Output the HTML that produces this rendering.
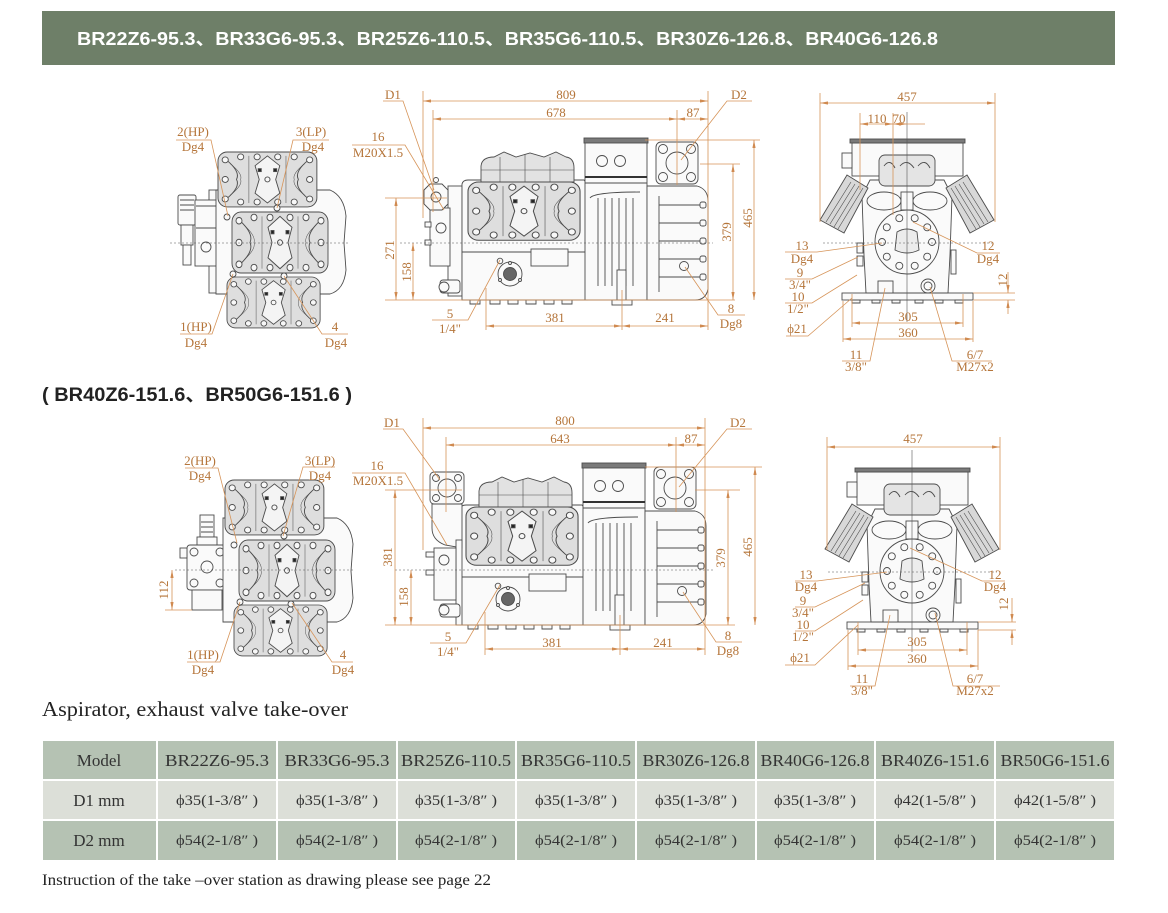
<!DOCTYPE html>
<html><head><meta charset="utf-8">
<style>
html,body{margin:0;padding:0;background:#fff;}
svg{display:block;}
.t{font-family:"Liberation Serif","DejaVu Serif",serif;font-size:13px;fill:#b5753a;text-anchor:middle;}
.o{stroke:#d69459;stroke-width:0.8;fill:none;}
.d{stroke:#d69459;stroke-width:0.8;fill:none;marker-start:url(#ar);marker-end:url(#ar);}
.e{stroke:#d69459;stroke-width:0.8;fill:none;marker-end:url(#ar);}
.g{stroke:#4c4c4c;stroke-width:0.9;fill:#fafafa;}
.c{stroke:#555;stroke-width:0.6;stroke-dasharray:2 2;fill:none;}
.tb{font-family:"Liberation Serif","DejaVu Serif",serif;fill:#333;text-anchor:middle;}
</style></head><body>
<svg width="1168" height="913" viewBox="0 0 1168 913" xmlns="http://www.w3.org/2000/svg" xmlns:xlink="http://www.w3.org/1999/xlink">
<defs>
<marker id="ar" viewBox="0 0 10 4" refX="10" refY="2" markerWidth="8" markerHeight="3.2" markerUnits="userSpaceOnUse" orient="auto-start-reverse"><path d="M0 0 L10 2 L0 4 z" fill="#d08a50"/></marker>
<g id="hd">
 <rect x="0" y="0" width="96" height="56" rx="9" fill="#dedede"/>
 <path d="M48 4 L60 14 L56 28 L60 42 L48 52 L36 42 L40 28 L36 14 Z" fill="#f4f4f4"/>
 <path d="M8 8 Q22 20 18 28 Q22 36 8 48" fill="none"/>
 <path d="M88 8 Q74 20 78 28 Q74 36 88 48" fill="none"/>
 <path d="M12 12 Q24 22 22 28 Q24 34 12 44" fill="none" stroke-width="0.5"/>
 <path d="M84 12 Q72 22 74 28 Q72 34 84 44" fill="none" stroke-width="0.5"/>
 <path d="M30 4 L30 52 M66 4 L66 52" fill="none" stroke-width="0.5"/>
 <g fill="#f8f8f8">
 <circle cx="7" cy="8" r="3"/><circle cx="22" cy="5" r="3"/><circle cx="38" cy="5" r="3"/><circle cx="58" cy="5" r="3"/><circle cx="74" cy="5" r="3"/><circle cx="89" cy="8" r="3"/>
 <circle cx="7" cy="28" r="3"/><circle cx="89" cy="28" r="3"/>
 <circle cx="7" cy="48" r="3"/><circle cx="22" cy="51" r="3"/><circle cx="38" cy="51" r="3"/><circle cx="58" cy="51" r="3"/><circle cx="74" cy="51" r="3"/><circle cx="89" cy="48" r="3"/>
 <circle cx="48" cy="28" r="2.5"/>
 </g>
 <rect x="39" y="17" width="3" height="3" fill="#222"/><rect x="54" y="17" width="3" height="3" fill="#222"/>
</g>
<g id="sv" class="g">
 <path d="M462 184 Q463 180 468 180 L584 180 L588 185 L588 300 L462 300 Z"/>
 <path d="M481 182 L481 166 Q482 157 494 157 L504 152 L516 157 L530 153 L544 157 L556 152 L566 157 Q574 158 574 168 L574 182 Z" fill="#e2e2e2"/>
 <path d="M481 170 L574 170 M500 157 L500 182 M525 154 L525 182 M550 157 L550 182" fill="none" stroke-width="0.6"/>
 <use xlink:href="#hd" href="#hd" transform="translate(468,182) scale(1.167,1.04)"/>
 <line x1="462" y1="252" x2="588" y2="252"/>
 <circle cx="500" cy="261" r="2.8"/>
 <circle cx="510" cy="274" r="12"/>
 <circle cx="510" cy="274" r="6.5" fill="#666"/>
 <circle cx="510" cy="263" r="1.5"/><circle cx="500" cy="280" r="1.5"/><circle cx="520" cy="280" r="1.5"/>
 <rect x="531" y="249" width="37" height="17"/>
 <path d="M470 300 h10 v4 h-10z M490 300 h10 v4 h-10z M508 300 h10 v4 h-10z M526 300 h10 v4 h-10z M544 300 h10 v4 h-10z M562 300 h10 v4 h-10z"/>
 <rect x="585" y="141" width="62" height="159"/>
 <rect x="584" y="138" width="64" height="5" fill="#7a7a7a"/>
 <line x1="585" y1="177" x2="647" y2="177" stroke="#333" stroke-width="2"/>
 <line x1="585" y1="183" x2="647" y2="183"/>
 <circle cx="602" cy="161" r="5.5"/><circle cx="620" cy="161" r="5.5"/>
 <path d="M598 198 V286 M605 198 V286 M612 198 V286 M619 198 V286 M626 198 V286 M633 198 V286" fill="none"/>
 <path d="M590 198 Q594 192 640 192" fill="none"/>
 <rect x="617" y="270" width="9" height="30"/>
 <rect x="612" y="300" width="20" height="5"/>
 <path d="M647 186 L697 186 Q708 189 708 201 L708 289 Q706 300 695 300 L647 300 Z"/>
 <path d="M659 196 V292 M659 205 H701 M659 223 H701 M659 241 H701 M659 259 H701 M659 277 H701" fill="none"/>
 <rect x="700" y="202" width="6" height="6" rx="2"/><rect x="700" y="220" width="6" height="6" rx="2"/><rect x="700" y="238" width="6" height="6" rx="2"/><rect x="700" y="256" width="6" height="6" rx="2"/><rect x="700" y="274" width="6" height="6" rx="2"/>
 <circle cx="684" cy="266" r="4.5"/>
 <rect x="656" y="142" width="42" height="42" rx="5"/>
 <circle cx="663" cy="149" r="4.5"/><circle cx="691" cy="149" r="4.5"/><circle cx="663" cy="177" r="4.5"/><circle cx="691" cy="177" r="4.5"/>
 <circle cx="677" cy="163" r="11"/>
</g>
<g id="tv" class="g">
 <path d="M216 190 L330 190 Q344 196 346 216 L344 243 L346 270 Q344 290 330 294 L216 294 Z"/>
 <use xlink:href="#hd" href="#hd" transform="translate(218,152) scale(1.03,0.98)"/>
 <use xlink:href="#hd" href="#hd" transform="translate(232,212) scale(1,1.09)"/>
 <use xlink:href="#hd" href="#hd" transform="translate(227,277) scale(0.97,0.91)"/>
 <circle cx="227" cy="217" r="3"/>
 <circle cx="277" cy="208" r="3"/>
 <circle cx="233" cy="274" r="3"/>
 <circle cx="284" cy="276" r="3"/>
</g>
<g id="fv" class="g">
 <rect x="842" y="293" width="131" height="7"/>
 <path d="M852 300 h8 v3 h-8z M872 300 h8 v3 h-8z M892 300 h8 v3 h-8z M915 300 h8 v3 h-8z M935 300 h8 v3 h-8z M955 300 h8 v3 h-8z"/>
 <path d="M870 180 L944 180 L952 196 L950 255 L948 293 L866 293 L864 255 L862 196 Z"/>
 <polygon points="847,175 868,188 844,233 820,220" fill="#d8d8d8"/>
 <path d="M851 182 L826 222 M855 184 L830 224 M859 186 L834 227 M863 188 L838 229" fill="none" stroke-width="0.6"/>
 <polygon points="967,175 946,188 970,233 994,220" fill="#d8d8d8"/>
 <path d="M963 182 L988 222 M959 184 L984 224 M955 186 L980 227 M951 188 L976 229" fill="none" stroke-width="0.6"/>
 <rect x="852" y="143" width="111" height="33"/>
 <rect x="850" y="139" width="115" height="4" fill="#7a7a7a"/>
 <rect x="842" y="153" width="10" height="15"/>
 <rect x="879" y="155" width="56" height="31" rx="6" fill="#e4e4e4"/>
 <path d="M884 166 Q890 158 895 168 M900 166 Q907 158 914 168 M918 166 Q925 158 930 168" fill="none"/>
 <ellipse cx="884" cy="201" rx="17" ry="9"/>
 <ellipse cx="930" cy="201" rx="17" ry="9"/>
 <rect x="901" y="192" width="12" height="18"/>
 <circle cx="907" cy="242" r="32"/>
 <path d="M897 232 Q907 226 917 232 L919 250 Q907 256 895 250 Z" fill="#ececec"/>
 <g>
 <circle cx="932" cy="242" r="3.5"/><circle cx="927.2" cy="256.7" r="3.5"/><circle cx="914.7" cy="265.8" r="3.5"/><circle cx="899.3" cy="265.8" r="3.5"/><circle cx="886.8" cy="256.7" r="3.5"/>
 <circle cx="882" cy="242" r="3.5"/><circle cx="886.8" cy="227.3" r="3.5"/><circle cx="899.3" cy="218.2" r="3.5"/><circle cx="914.7" cy="218.2" r="3.5"/><circle cx="927.2" cy="227.3" r="3.5"/>
 </g>
 <circle cx="928" cy="286" r="7"/><circle cx="928" cy="286" r="4"/>
 <rect x="878" y="281" width="15" height="12"/>
 <rect x="857" y="243" width="6" height="10"/><rect x="857" y="256" width="6" height="10"/>
 <rect x="951" y="250" width="5" height="24"/>
</g>
</defs>

<!-- Header -->
<rect x="42" y="11" width="1073" height="54" fill="#6e7f68"/>
<text x="77" y="45" font-family="'Liberation Sans','Noto Sans CJK SC',sans-serif" font-weight="bold" font-size="18" fill="#fff" textLength="861" lengthAdjust="spacingAndGlyphs">BR22Z6-95.3、BR33G6-95.3、BR25Z6-110.5、BR35G6-110.5、BR30Z6-126.8、BR40G6-126.8</text>

<!-- ===== TOP ROW ===== -->
<g class="g">
 <rect x="209" y="190" width="8" height="103"/>
 <rect x="178" y="195" width="18" height="30" rx="2"/>
 <path d="M180 200 h14 M180 205 h14 M180 210 h14" fill="none"/>
 <rect x="181" y="225" width="12" height="20"/>
 <rect x="183" y="245" width="8" height="20"/>
 <rect x="195" y="200" width="22" height="66"/>
 <path d="M196 206 h20 M196 228 h20" fill="none"/>
 <circle cx="206" cy="247" r="5"/>
</g>
<use xlink:href="#tv" href="#tv"/>
<path class="c" d="M170 243 H350"/>
<path class="o" d="M176 140 H211 L228 216 M329 140 H293 L277 208 M180 334 H212 L233 274 M348 334 H322 L284 276"/>
<text class="t" x="193" y="136">2(HP)</text><text class="t" x="193" y="151">Dg4</text>
<text class="t" x="311" y="136">3(LP)</text><text class="t" x="313" y="151">Dg4</text>
<text class="t" x="196" y="331">1(HP)</text><text class="t" x="196" y="347">Dg4</text>
<text class="t" x="335" y="331">4</text><text class="t" x="336" y="347">Dg4</text>

<g class="g">
 <rect x="448" y="186" width="14" height="110"/>
 <rect x="430" y="208" width="20" height="58"/>
 <path d="M424 190 L430 184 L442 184 L448 190 L448 204 L442 210 L430 210 L424 204 Z"/>
 <circle cx="436" cy="197" r="5"/>
 <circle cx="436" cy="180" r="2.5"/>
 <rect x="440" y="280" width="20" height="13" rx="3"/>
 <circle cx="444" cy="287" r="5"/>
 <rect x="425" y="222" width="6" height="5"/><rect x="425" y="240" width="6" height="5"/>
 <circle cx="441" cy="228" r="5"/>
</g>
<use xlink:href="#sv" href="#sv"/>
<path class="c" d="M400 243 H713"/>
<path class="o" d="M423 91 V218 M433 110 V212 M708 91 V330 M677 110 V185 M645 140 H760 M700 164 H740 M385 198 H447 M385 300 H735 M486 288 V330 M622 290 V330"/>
<path class="d" d="M423 101 H708"/>
<path class="d" d="M433 119 H677"/>
<path class="d" d="M677 119 H708"/>
<path class="d" d="M396 198 V300"/>
<path class="d" d="M413 243 V300"/>
<path class="d" d="M733 164 V300"/>
<path class="d" d="M754 140 V300"/>
<path class="d" d="M486 326 H622"/>
<path class="d" d="M622 326 H708"/>
<path class="o" d="M383 101 H403 L434 190 M352 145 H405 L444 210 M752 101 H727 L681 160 M432 320 H468 L500 260 M745 315 H718 L685 267"/>
<text class="t" x="566" y="99">809</text>
<text class="t" x="556" y="117">678</text>
<text class="t" x="693" y="117">87</text>
<text class="t" x="393" y="99">D1</text>
<text class="t" x="739" y="99">D2</text>
<text class="t" x="378" y="141">16</text>
<text class="t" x="378" y="157">M20X1.5</text>
<text class="t" x="450" y="318">5</text>
<text class="t" x="450" y="333">1/4"</text>
<text class="t" x="555" y="322">381</text>
<text class="t" x="665" y="322">241</text>
<text class="t" x="731" y="313">8</text>
<text class="t" x="731" y="328">Dg8</text>
<text class="t" transform="translate(394,250) rotate(-90)">271</text>
<text class="t" transform="translate(411,272) rotate(-90)">158</text>
<text class="t" transform="translate(731,232) rotate(-90)">379</text>
<text class="t" transform="translate(752,218) rotate(-90)">465</text>

<use xlink:href="#fv" href="#fv"/>
<path class="c" d="M823 243 H992"/>
<path d="M907 112 V322" stroke="#555" stroke-width="0.6"/>
<path class="o" d="M820 93 V222 M995 93 V222 M860 113 V190 M893 113 V215 M973 293 H1015 M973 300 H1015 M852 294 V327 M963 294 V327 M843 301 V342 M973 301 V342 M907 124 H925"/>
<path class="d" d="M820 103 H995"/>
<path class="d" d="M860 124 H893"/>
<path class="d" d="M893 124 H907"/>
<path class="d" d="M852 323 H963"/>
<path class="d" d="M843 339 H973"/>
<path class="e" d="M1008 272 V293"/>
<path class="e" d="M1008 314 V300"/>
<path class="o" d="M785 252 H817 L882 243 M1000 253 H977 L913 222 M785 279 H812 L858 257 M785 303 H812 L857 275 M786 336 H808 L852 298 M842 361 H870 L885 288 M992 361 H952 L930 287"/>
<text class="t" x="907" y="101">457</text>
<text class="t" x="877" y="123">110</text>
<text class="t" x="899" y="123">70</text>
<text class="t" x="802" y="250">13</text><text class="t" x="802" y="263">Dg4</text>
<text class="t" x="988" y="250">12</text><text class="t" x="988" y="263">Dg4</text>
<text class="t" x="800" y="277">9</text><text class="t" x="800" y="289">3/4"</text>
<text class="t" x="798" y="301">10</text><text class="t" x="798" y="313">1/2"</text>
<text class="t" x="797" y="333">ϕ21</text>
<text class="t" x="908" y="321">305</text>
<text class="t" x="908" y="337">360</text>
<text class="t" x="856" y="359">11</text><text class="t" x="856" y="371">3/8"</text>
<text class="t" x="975" y="359">6/7</text><text class="t" x="975" y="371">M27x2</text>
<text class="t" transform="translate(1007,280) rotate(-90)">12</text>

<text x="42" y="401" font-family="'Liberation Sans','Noto Sans CJK SC',sans-serif" font-weight="bold" font-size="19" fill="#222" textLength="310" lengthAdjust="spacingAndGlyphs">( BR40Z6-151.6、BR50G6-151.6 )</text>

<!-- ===== BOTTOM ROW ===== -->
<g class="g">
 <rect x="226" y="518" width="6" height="95"/>
 <rect x="200" y="515" width="14" height="22"/>
 <path d="M201 522 h12 M201 527 h12 M201 532 h12" fill="none"/>
 <rect x="197" y="537" width="20" height="8"/>
 <rect x="187" y="545" width="40" height="45" rx="3"/>
 <circle cx="194" cy="552" r="4"/><circle cx="220" cy="552" r="4"/><circle cx="194" cy="583" r="4"/><circle cx="220" cy="583" r="4"/>
 <circle cx="207" cy="567" r="6"/>
 <rect x="192" y="590" width="30" height="20"/>
 <rect x="180" y="548" width="7" height="10"/>
</g>
<use xlink:href="#tv" href="#tv" transform="translate(7,328)"/>
<path class="c" d="M175 570 H355"/>
<path class="o" d="M165 610 H192 M185 468 H218 L237 543 M335 467 H303 L283 536 M187 662 H220 L240 602 M353 662 H332 L292 603"/>
<path class="d" d="M172 570 V610"/>
<text class="t" transform="translate(168,590) rotate(-90)">112</text>
<text class="t" x="200" y="465">2(HP)</text><text class="t" x="200" y="480">Dg4</text>
<text class="t" x="320" y="465">3(LP)</text><text class="t" x="320" y="480">Dg4</text>
<text class="t" x="203" y="659">1(HP)</text><text class="t" x="203" y="674">Dg4</text>
<text class="t" x="343" y="659">4</text><text class="t" x="343" y="674">Dg4</text>

<use xlink:href="#sv" href="#sv" transform="translate(-2,325)"/>
<g class="g">
 <rect x="430" y="472" width="34" height="32" rx="4"/>
 <circle cx="436" cy="478" r="3.5"/><circle cx="458" cy="478" r="3.5"/><circle cx="436" cy="498" r="3.5"/><circle cx="458" cy="498" r="3.5"/>
 <circle cx="447" cy="488" r="9"/>
 <path d="M432 504 L432 528 Q432 540 445 545 L462 548 L462 504 Z"/>
 <rect x="456" y="540" width="6" height="85"/>
 <rect x="434" y="548" width="22" height="52"/>
 <circle cx="444" cy="560" r="5"/>
 <rect x="426" y="552" width="8" height="5"/><rect x="426" y="570" width="8" height="5"/>
 <rect x="440" y="604" width="20" height="13" rx="3"/>
 <circle cx="444" cy="610" r="5"/>
</g>
<path class="c" d="M395 570 H713"/>
<path class="o" d="M423 418 V550 M446 437 V512 M705 418 V655 M676 437 V512 M645 467 H762 M385 490 H462 M695 490 H740 M385 625 H735 M485 612 V655 M620 615 V655"/>
<path class="d" d="M423 428 H705"/>
<path class="d" d="M446 445 H676"/>
<path class="d" d="M676 445 H705"/>
<path class="d" d="M395 490 V625"/>
<path class="d" d="M411 570 V625"/>
<path class="d" d="M728 490 V625"/>
<path class="d" d="M755 467 V625"/>
<path class="d" d="M485 649 H620"/>
<path class="d" d="M620 649 H705"/>
<path class="o" d="M383 429 H403 L440 480 M352 473 H405 L447 545 M752 429 H727 L679 487 M430 643 H466 L500 585 M742 642 H716 L683 592"/>
<text class="t" x="565" y="425">800</text>
<text class="t" x="560" y="443">643</text>
<text class="t" x="691" y="443">87</text>
<text class="t" x="392" y="427">D1</text>
<text class="t" x="738" y="427">D2</text>
<text class="t" x="377" y="470">16</text>
<text class="t" x="378" y="485">M20X1.5</text>
<text class="t" x="552" y="647">381</text>
<text class="t" x="663" y="647">241</text>
<text class="t" x="448" y="641">5</text>
<text class="t" x="448" y="656">1/4"</text>
<text class="t" x="728" y="640">8</text>
<text class="t" x="728" y="655">Dg8</text>
<text class="t" transform="translate(392,557) rotate(-90)">381</text>
<text class="t" transform="translate(408,597) rotate(-90)">158</text>
<text class="t" transform="translate(725,558) rotate(-90)">379</text>
<text class="t" transform="translate(752,547) rotate(-90)">465</text>

<use xlink:href="#fv" href="#fv" transform="translate(5,329)"/>
<path class="c" d="M828 572 H997"/>
<path d="M912 450 V652" stroke="#555" stroke-width="0.6"/>
<path class="o" d="M827 437 V550 M1000 437 V550 M858 622 V655 M967 622 V655 M848 630 V670 M978 630 V670 M978 622 H1016 M978 630 H1016"/>
<path class="d" d="M827 447 H1000"/>
<path class="d" d="M858 650 H967"/>
<path class="d" d="M848 666 H978"/>
<path class="e" d="M1012 598 V622"/>
<path class="e" d="M1012 645 V630"/>
<path class="o" d="M795 581 H817 L887 572 M1005 581 H982 L910 548 M795 607 H815 L865 583 M795 631 H815 L863 600 M785 665 H815 L858 625 M850 686 H875 L890 615 M1000 686 H953 L935 613"/>
<text class="t" x="913" y="443">457</text>
<text class="t" x="806" y="579">13</text><text class="t" x="806" y="591">Dg4</text>
<text class="t" x="995" y="579">12</text><text class="t" x="995" y="591">Dg4</text>
<text class="t" x="803" y="605">9</text><text class="t" x="803" y="617">3/4"</text>
<text class="t" x="803" y="629">10</text><text class="t" x="803" y="641">1/2"</text>
<text class="t" x="800" y="662">ϕ21</text>
<text class="t" x="917" y="646">305</text>
<text class="t" x="917" y="663">360</text>
<text class="t" x="862" y="683">11</text><text class="t" x="862" y="695">3/8"</text>
<text class="t" x="975" y="683">6/7</text><text class="t" x="975" y="695">M27x2</text>
<text class="t" transform="translate(1008,604) rotate(-90)">12</text>

<text x="42" y="716" font-family="'Liberation Serif',serif" font-size="21" fill="#222" textLength="306" lengthAdjust="spacingAndGlyphs">Aspirator, exhaust valve take-over</text>

<g>
 <rect x="42" y="740" width="1072" height="120" fill="#fff"/>
 <rect x="43" y="741" width="113" height="38" fill="#b5c2b3"/>
 <rect x="158" y="741" width="118" height="38" fill="#b5c2b3"/>
 <rect x="278" y="741" width="118" height="38" fill="#b5c2b3"/>
 <rect x="398" y="741" width="117" height="38" fill="#b5c2b3"/>
 <rect x="517" y="741" width="118" height="38" fill="#b5c2b3"/>
 <rect x="637" y="741" width="118" height="38" fill="#b5c2b3"/>
 <rect x="757" y="741" width="117" height="38" fill="#b5c2b3"/>
 <rect x="876" y="741" width="118" height="38" fill="#b5c2b3"/>
 <rect x="996" y="741" width="118" height="38" fill="#b5c2b3"/>
 <rect x="43" y="781" width="113" height="38" fill="#dcdfd8"/>
 <rect x="158" y="781" width="118" height="38" fill="#dcdfd8"/>
 <rect x="278" y="781" width="118" height="38" fill="#dcdfd8"/>
 <rect x="398" y="781" width="117" height="38" fill="#dcdfd8"/>
 <rect x="517" y="781" width="118" height="38" fill="#dcdfd8"/>
 <rect x="637" y="781" width="118" height="38" fill="#dcdfd8"/>
 <rect x="757" y="781" width="117" height="38" fill="#dcdfd8"/>
 <rect x="876" y="781" width="118" height="38" fill="#dcdfd8"/>
 <rect x="996" y="781" width="118" height="38" fill="#dcdfd8"/>
 <rect x="43" y="821" width="113" height="39" fill="#b5c2b3"/>
 <rect x="158" y="821" width="118" height="39" fill="#b5c2b3"/>
 <rect x="278" y="821" width="118" height="39" fill="#b5c2b3"/>
 <rect x="398" y="821" width="117" height="39" fill="#b5c2b3"/>
 <rect x="517" y="821" width="118" height="39" fill="#b5c2b3"/>
 <rect x="637" y="821" width="118" height="39" fill="#b5c2b3"/>
 <rect x="757" y="821" width="117" height="39" fill="#b5c2b3"/>
 <rect x="876" y="821" width="118" height="39" fill="#b5c2b3"/>
 <rect x="996" y="821" width="118" height="39" fill="#b5c2b3"/>
</g>
<g class="tb" font-size="17">
 <text x="99" y="766">Model</text>
 <text x="217" y="766" textLength="104" lengthAdjust="spacingAndGlyphs">BR22Z6-95.3</text>
 <text x="337" y="766" textLength="105" lengthAdjust="spacingAndGlyphs">BR33G6-95.3</text>
 <text x="456" y="766" textLength="110" lengthAdjust="spacingAndGlyphs">BR25Z6-110.5</text>
 <text x="576" y="766" textLength="110" lengthAdjust="spacingAndGlyphs">BR35G6-110.5</text>
 <text x="696" y="766" textLength="107" lengthAdjust="spacingAndGlyphs">BR30Z6-126.8</text>
 <text x="815" y="766" textLength="109" lengthAdjust="spacingAndGlyphs">BR40G6-126.8</text>
 <text x="935" y="766" textLength="108" lengthAdjust="spacingAndGlyphs">BR40Z6-151.6</text>
 <text x="1055" y="766" textLength="109" lengthAdjust="spacingAndGlyphs">BR50G6-151.6</text>
 <text x="99" y="806">D1 mm</text>
 <text x="99" y="846">D2 mm</text>
</g>
<g class="tb" font-size="15">
 <text x="217" y="805" textLength="82" lengthAdjust="spacingAndGlyphs">ϕ35(1-3/8″ )</text>
 <text x="337" y="805" textLength="82" lengthAdjust="spacingAndGlyphs">ϕ35(1-3/8″ )</text>
 <text x="456" y="805" textLength="82" lengthAdjust="spacingAndGlyphs">ϕ35(1-3/8″ )</text>
 <text x="576" y="805" textLength="82" lengthAdjust="spacingAndGlyphs">ϕ35(1-3/8″ )</text>
 <text x="696" y="805" textLength="82" lengthAdjust="spacingAndGlyphs">ϕ35(1-3/8″ )</text>
 <text x="815" y="805" textLength="82" lengthAdjust="spacingAndGlyphs">ϕ35(1-3/8″ )</text>
 <text x="935" y="805" textLength="82" lengthAdjust="spacingAndGlyphs">ϕ42(1-5/8″ )</text>
 <text x="1055" y="805" textLength="82" lengthAdjust="spacingAndGlyphs">ϕ42(1-5/8″ )</text>
 <text x="217" y="845" textLength="82" lengthAdjust="spacingAndGlyphs">ϕ54(2-1/8″ )</text>
 <text x="337" y="845" textLength="82" lengthAdjust="spacingAndGlyphs">ϕ54(2-1/8″ )</text>
 <text x="456" y="845" textLength="82" lengthAdjust="spacingAndGlyphs">ϕ54(2-1/8″ )</text>
 <text x="576" y="845" textLength="82" lengthAdjust="spacingAndGlyphs">ϕ54(2-1/8″ )</text>
 <text x="696" y="845" textLength="82" lengthAdjust="spacingAndGlyphs">ϕ54(2-1/8″ )</text>
 <text x="815" y="845" textLength="82" lengthAdjust="spacingAndGlyphs">ϕ54(2-1/8″ )</text>
 <text x="935" y="845" textLength="82" lengthAdjust="spacingAndGlyphs">ϕ54(2-1/8″ )</text>
 <text x="1055" y="845" textLength="82" lengthAdjust="spacingAndGlyphs">ϕ54(2-1/8″ )</text>
</g>

<text x="42" y="885" font-family="'Liberation Serif',serif" font-size="16" fill="#222" textLength="449" lengthAdjust="spacingAndGlyphs">Instruction of the take –over station as drawing please see page 22</text>
</svg>
</body></html>
